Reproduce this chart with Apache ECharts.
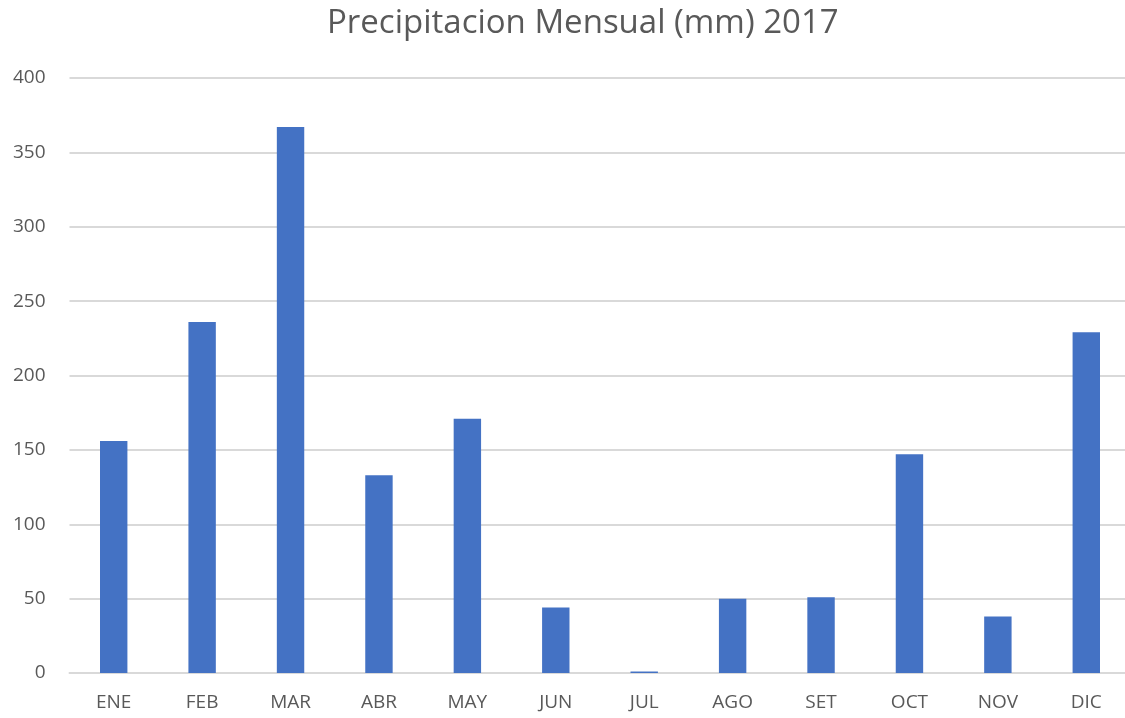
<!DOCTYPE html>
<html>
<head>
<meta charset="utf-8">
<script src="https://cdn.jsdelivr.net/npm/echarts@6/dist/echarts.min.js"></script>
<style>
  html, body { margin: 0; padding: 0; background: #fff; }
  #chart { width: 1125px; height: 718px; }
</style>
</head>
<body>
<div id="chart"></div>
<script>
// meses y precipitacion (mm)
const meses = ["ENE", "FEB", "MAR", "ABR", "MAY", "JUN", "JUL", "AGO", "SET", "OCT", "NOV", "DIC"];
const precipitacion = [156, 236, 367, 133, 171, 44, 1, 50, 51, 147, 38, 229];

let el = document.getElementById("chart");
let myChart = echarts.init(el);
myChart.setOption({
  animation: false,
  title: {
    text: "Precipitacion Mensual (mm) 2017",
    left: 322,
    top: 2,
    textStyle: {
      fontFamily: "Open Sans",
      fontSize: 33,
      fontWeight: "normal",
      color: "#595959",
    },
  },
  grid: { left: 69.5, width: 1061, top: 78, bottom: 45, outerBoundsMode: "none" },
  xAxis: {
    type: "category",
    data: meses,
    axisLine: { lineStyle: { color: "#d9d9d9", width: 2 } },
    axisTick: { show: false },
    axisLabel: {
      color: "#595959",
      fontFamily: "Open Sans",
      fontSize: 19,
      margin: 20,
    },
  },
  yAxis: {
    type: "value",
    min: 0,
    max: 400,
    interval: 50,
    axisLine: { show: false },
    axisTick: { show: false },
    splitLine: { lineStyle: { color: "#d9d9d9", width: 2 } },
    axisLabel: {
      color: "#595959",
      fontFamily: "Open Sans",
      fontSize: 19,
      margin: 24,
    },
  },
  series: [
    {
      type: "bar",
      data: precipitacion,
      barWidth: "31%",
      itemStyle: { color: "#4472c4" },
    },
  ],
});
</script>
</body>
</html>
